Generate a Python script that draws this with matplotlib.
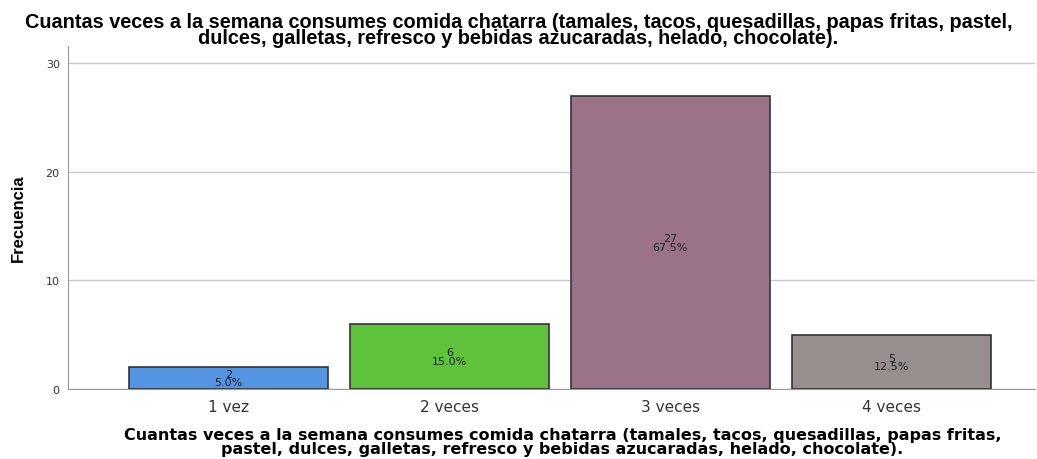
import matplotlib
matplotlib.use('Agg')
import matplotlib.pyplot as plt

# frequency table
categories = ['1 vez', '2 veces', '3 veces', '4 veces']
counts = [2, 6, 27, 5]
percents = [5.0, 15.0, 67.5, 12.5]
colors = ['#5495e3', '#5ec23b', '#9b7388', '#968f8e']

title = ('Cuantas veces a la semana consumes comida chatarra (tamales, tacos, quesadillas, papas fritas, pastel,\n'
         'dulces, galletas, refresco y bebidas azucaradas, helado, chocolate).')
xlabel = ('Cuantas veces a la semana consumes comida chatarra (tamales, tacos, quesadillas, papas fritas,\n'
          'pastel, dulces, galletas, refresco y bebidas azucaradas, helado, chocolate).')

narrow = ['Liberation Sans', 'DejaVu Sans']

fig = plt.figure(figsize=(10.37, 4.6), dpi=100)
ax = fig.add_axes([0.0656, 0.152, 0.9324, 0.746])

x = range(len(categories))
bars = ax.bar(x, counts, width=0.9, color=colors, edgecolor='#333333', linewidth=1.2, zorder=3)

for b, c, p in zip(bars, counts, percents):
    ax.text(b.get_x() + b.get_width() / 2, c / 2, f'{c}\n{p:.1f}%',
            ha='center', va='center', fontsize=8, linespacing=0.8,
            color='#222222', zorder=4)

ax.set_xlim(-0.726, 3.65)
ax.set_ylim(0, 31.6)
ax.set_yticks([0, 10, 20, 30])
ax.set_xticks(list(x))
ax.set_xticklabels(categories, fontsize=11, color='#333333')
ax.tick_params(axis='y', labelsize=8, colors='#333333', length=0, pad=6)
ax.tick_params(axis='x', length=0, pad=7)

ax.yaxis.grid(True, color='#c8c8c8', linewidth=1, zorder=0)
for s in ['top', 'right']:
    ax.spines[s].set_visible(False)
ax.spines['left'].set_color('#999999')
ax.spines['bottom'].set_color('#999999')

ax.set_ylabel('Frecuencia', family=narrow, fontweight='bold', fontsize=12, labelpad=14)

# x axis title placed as figure text so both lines fit above the bottom edge
fig.text(0.5425, 1 - 428 / 460, xlabel, ha='center', va='top', family='DejaVu Sans',
         fontweight='bold', fontsize=11.5, linespacing=0.88)

fig.text(0.5, 0.972, title, ha='center', va='top', family=narrow,
         fontweight='bold', fontsize=14.3, linespacing=0.82)

fig.savefig('out.png', dpi=100)
